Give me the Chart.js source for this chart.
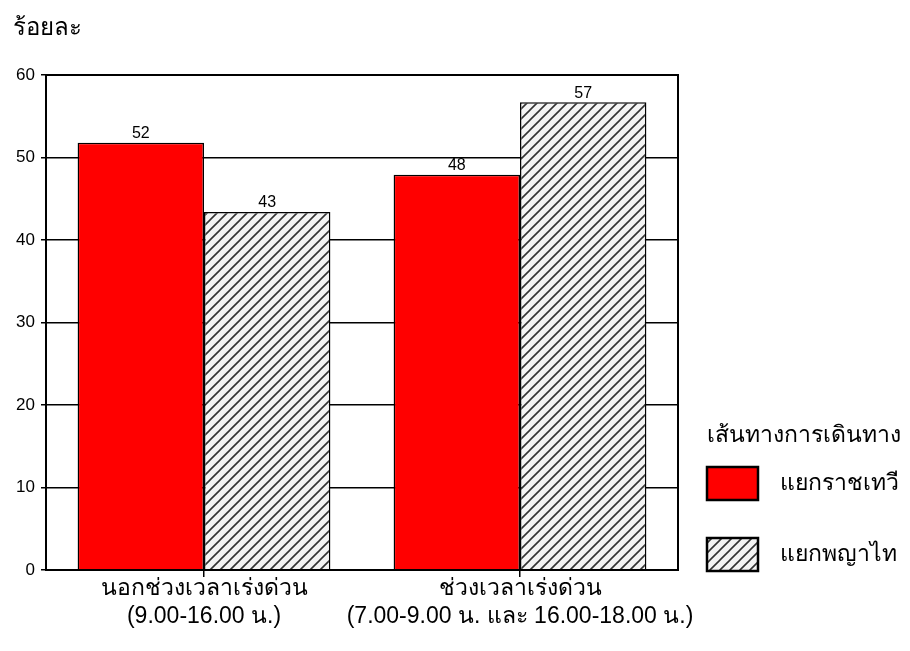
<!DOCTYPE html>
<html lang="th">
<head>
<meta charset="utf-8">
<script src="https://cdn.jsdelivr.net/npm/chart.js@4/dist/chart.umd.min.js"></script>
<style>
  html, body { margin: 0; padding: 0; background: #fff; }
  #wrap { width: 910px; height: 651px; }
</style>
</head>
<body>
<div id="wrap"><canvas id="chart"></canvas></div>
<script>
const categories = [
    ['นอกช่วงเวลาเร่งด่วน', '(9.00-16.00 น.)'],
    ['ช่วงเวลาเร่งด่วน', '(7.00-9.00 น. และ 16.00-18.00 น.)']
];
const seriesNames = ['แยกราชเทวี', 'แยกพญาไท'];
const ratchathewi = [51.8, 47.9];
const phayathai = [43.4, 56.7];
const yMin = 0;
const yMax = 60;
const yStep = 10;
const yTitle = 'ร้อยละ';
const legendTitle = 'เส้นทางการเดินทาง';

const FONT = "'Liberation Sans', 'Noto Sans', sans-serif";

function makeHatch() {
    const size = 10;
    const c = document.createElement('canvas');
    c.width = size;
    c.height = size;
    const g = c.getContext('2d');
    g.fillStyle = '#f4f4f4';
    g.fillRect(0, 0, size, size);
    g.strokeStyle = '#333';
    g.lineWidth = 1.6;
    g.beginPath();
    g.moveTo(0, size); g.lineTo(size, 0);
    g.moveTo(-2, 2); g.lineTo(2, -2);
    g.moveTo(size - 2, size + 2); g.lineTo(size + 2, size - 2);
    g.stroke();
    return g.createPattern(c, 'repeat');
}

const hatch = makeHatch();
const colors = ['#ff0000', hatch];

// box around the plot (top and right edges)
const frame = {
    id: 'frame',
    afterDatasetsDraw(chart) {
        const { ctx, chartArea: a } = chart;
        ctx.save();
        ctx.strokeStyle = '#000';
        ctx.lineWidth = 2;
        ctx.strokeRect(a.left, a.top, a.right - a.left, a.bottom - a.top);
        ctx.restore();
    }
};

// value above every bar
const valueLabels = {
    id: 'valueLabels',
    afterDatasetsDraw(chart) {
        const { ctx } = chart;
        ctx.save();
        ctx.font = `16px ${FONT}`;
        ctx.fillStyle = '#000';
        ctx.textAlign = 'center';
        ctx.textBaseline = 'bottom';
        chart.data.datasets.forEach((ds, i) => {
            chart.getDatasetMeta(i).data.forEach((bar, j) => {
                ctx.fillText(Math.round(ds.data[j]), bar.x, bar.y - 1);
            });
        });
        ctx.restore();
    }
};

// legend drawn to the right of the plot
const sideLegend = {
    id: 'sideLegend',
    afterDraw(chart) {
        const { ctx, chartArea: a } = chart;
        const x = a.right + 29;
        const boxW = 51, boxH = 33, gap = 71;
        const firstTop = a.bottom + 1 - boxH - gap * (chart.data.datasets.length - 1);
        ctx.save();
        ctx.fillStyle = '#000';
        ctx.textBaseline = 'middle';
        ctx.textAlign = 'left';
        ctx.font = `23px ${FONT}`;
        ctx.fillText(legendTitle, x, firstTop - 31);
        chart.data.datasets.forEach((ds, i) => {
            const top = firstTop + i * gap;
            ctx.fillStyle = ds.backgroundColor;
            ctx.fillRect(x, top, boxW, boxH);
            ctx.strokeStyle = '#000';
            ctx.lineWidth = 2.5;
            ctx.strokeRect(x, top, boxW, boxH);
            ctx.fillStyle = '#000';
            ctx.fillText(ds.label, x + boxW + 22, top + boxH / 2);
        });
        ctx.restore();
    }
};

new Chart(document.getElementById('chart'), {
    type: 'bar',
    data: {
        labels: categories,
        datasets: [
            { label: seriesNames[0], data: ratchathewi, backgroundColor: colors[0] },
            { label: seriesNames[1], data: phayathai, backgroundColor: colors[1] }
        ]
    },
    options: {
        responsive: true,
        maintainAspectRatio: false,
        animation: false,
        layout: { padding: { left: 13, right: 232, top: 0, bottom: 0 } },
        datasets: {
            bar: {
                categoryPercentage: 0.8,
                barPercentage: 1.0,
                borderColor: '#000',
                borderWidth: 1.5
            }
        },
        scales: {
            x: {
                offset: true,
                grid: { offset: false, drawOnChartArea: false, drawTicks: true, tickLength: 7, color: '#000', lineWidth: 1.5 },
                border: { display: true, color: '#000', width: 2 },
                ticks: {
                    color: '#000',
                    font: { family: FONT, size: 23, lineHeight: 1.22 },
                    padding: -2,
                    maxRotation: 0,
                    autoSkip: false
                },
                afterFit: (s) => { s.height = 81; }
            },
            y: {
                min: yMin,
                max: yMax,
                grid: { color: '#000', lineWidth: 1.5, tickLength: 5 },
                border: { display: true, color: '#000', width: 2 },
                ticks: {
                    stepSize: yStep,
                    color: '#000',
                    padding: 6,
                    font: { family: FONT, size: 17 }
                },
                afterFit: (s) => { s.width = 33; }
            }
        },
        plugins: {
            legend: { display: false },
            tooltip: { enabled: false },
            title: {
                display: true,
                text: yTitle,
                align: 'start',
                color: '#000',
                font: { family: FONT, size: 24, weight: 'normal', lineHeight: 1.2 },
                padding: { top: 14, bottom: 32.2 }
            }
        }
    },
    plugins: [frame, valueLabels, sideLegend]
});
</script>
</body>
</html>
